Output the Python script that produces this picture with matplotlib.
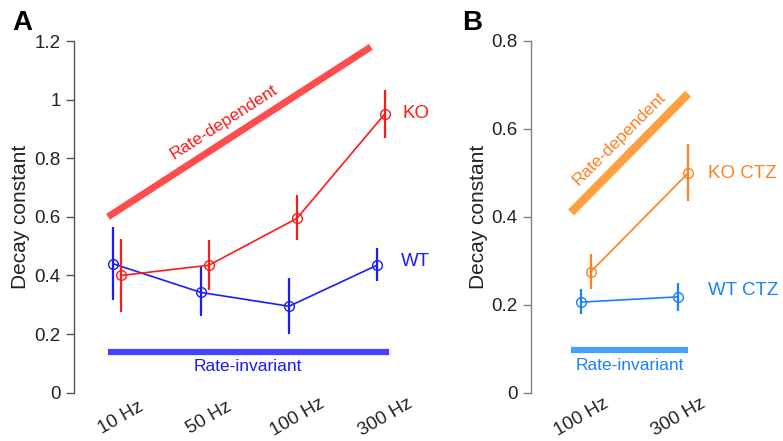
import matplotlib
matplotlib.use('Agg')
import matplotlib.pyplot as plt

plt.rcParams['font.family'] = ['Liberation Sans', 'DejaVu Sans']

# ---- panel A data
rates_a = ['10 Hz', '50 Hz', '100 Hz', '300 Hz']
wt_mean = [0.44, 0.342, 0.295, 0.435]
wt_lo = [0.315, 0.26, 0.20, 0.38]
wt_hi = [0.565, 0.43, 0.39, 0.495]
ko_mean = [0.40, 0.435, 0.595, 0.952]
ko_lo = [0.275, 0.35, 0.52, 0.87]
ko_hi = [0.525, 0.52, 0.675, 1.032]
# guide lines (x in category units, y in decay constant)
dep_a_x = [-0.148, 2.84]
dep_a_y = [0.60, 1.18]
inv_a_x = [-0.148, 3.045]
inv_a_y = [0.14, 0.14]

# ---- panel B data
rates_b = ['100 Hz', '300 Hz']
wtc_mean = [0.206, 0.218]
wtc_lo = [0.18, 0.185]
wtc_hi = [0.235, 0.25]
koc_mean = [0.275, 0.499]
koc_lo = [0.235, 0.435]
koc_hi = [0.315, 0.565]
dep_b_x = [-0.103, 1.103]
dep_b_y = [0.41, 0.68]
inv_b_x = [-0.103, 1.103]
inv_b_y = [0.098, 0.098]

red = '#ff1a1a'
red_l = '#ff4d4d'
blue = '#1a1aff'
blue_l = '#4444ff'
orange = '#ff8020'
orange_l = '#ffa040'
sky = '#1a80ff'
sky_l = '#44a0ff'

W, H = 783, 441
fig = plt.figure(figsize=(7.83, 4.41), dpi=100)

tick_fs = 13.5
lab_fs = 13.5


def style_axis(ax, ylim, yticks, ylabels, labx):
	for s in ['top', 'right', 'bottom']:
		ax.spines[s].set_visible(False)
	ax.spines['left'].set_color('#555555')
	ax.spines['left'].set_linewidth(1.0)
	ax.set_ylim(*ylim)
	ax.set_yticks(yticks)
	ax.set_yticklabels(ylabels, fontsize=tick_fs, color='#222222')
	ax.tick_params(axis='y', direction='out', length=5.5, width=1.0, color='#555555', pad=4)
	ax.tick_params(axis='x', length=0, pad=18)
	ax.set_ylabel('Decay constant', fontsize=15, color='#222222')
	ax.yaxis.set_label_coords(labx, 0.5)


def err(ax, x, m, lo, hi, c, off):
	xs = [i + off for i in x]
	ax.plot(xs, m, color=c, lw=1.2, marker='o', ms=7, mfc='none', mec=c, mew=1.0, zorder=3)
	ax.vlines(xs, lo, hi, color=c, lw=1.6, zorder=3)


# ---------------- panel A
axA = fig.add_axes([74 / W, (H - 392.7) / H, (420 - 74) / W, 351.7 / H])
xa = list(range(len(rates_a)))
axA.plot(dep_a_x, dep_a_y, color=red_l, lw=5, solid_capstyle='butt')
axA.plot(inv_a_x, inv_a_y, color=blue_l, lw=4.5, solid_capstyle='butt')
err(axA, xa, wt_mean, wt_lo, wt_hi, blue, -0.09)
err(axA, xa, ko_mean, ko_lo, ko_hi, red, 0.0)
axA.set_xlim(-0.534, 3.398)
style_axis(axA, (0, 1.2), [0, 0.2, 0.4, 0.6, 0.8, 1.0, 1.2],
	['0', '0.2', '0.4', '0.6', '0.8', '1', '1.2'], -0.127)
axA.set_xticks(xa)
axA.set_xticklabels(rates_a, rotation=30, ha='center', va='center', fontsize=tick_fs, color='#222222')
axA.text(1.17, 0.925, 'Rate-dependent', color=red, fontsize=12.5, rotation=32.8,
	ha='center', va='center', rotation_mode='anchor')
axA.text(1.44, 0.089, 'Rate-invariant', color=blue, fontsize=12.5, ha='center', va='center')
axA.text(3.2, 0.952, 'KO', color=red, fontsize=lab_fs, ha='left', va='center')
axA.text(3.18, 0.448, 'WT', color=blue, fontsize=lab_fs, ha='left', va='center')
fig.text(12 / W, 1 - 23 / H, 'A', fontsize=20, fontweight='bold', va='center', ha='left')

# ---------------- panel B
axB = fig.add_axes([531 / W, (H - 392.7) / H, (783 - 531) / W, 351.7 / H])
xb = list(range(len(rates_b)))
axB.plot(dep_b_x, dep_b_y, color=orange_l, lw=6, solid_capstyle='butt')
axB.plot(inv_b_x, inv_b_y, color=sky_l, lw=4.5, solid_capstyle='butt')
err(axB, xb, wtc_mean, wtc_lo, wtc_hi, sky, 0.0)
err(axB, xb, koc_mean, koc_lo, koc_hi, orange, 0.1)
axB.set_xlim(-0.515, 2.08)
style_axis(axB, (0, 0.8), [0, 0.2, 0.4, 0.6, 0.8], ['0', '0.2', '0.4', '0.6', '0.8'], -0.171)
axB.spines['left'].set_color('#808080')
axB.tick_params(axis='y', color='#808080')
axB.set_xticks(xb)
axB.set_xticklabels(rates_b, rotation=30, ha='center', va='center', fontsize=tick_fs, color='#222222')
axB.text(0.39, 0.578, 'Rate-dependent', color=orange, fontsize=12.5, rotation=45,
	ha='center', va='center', rotation_mode='anchor')
axB.text(0.5, 0.063, 'Rate-invariant', color=sky, fontsize=12.5, ha='center', va='center')
axB.text(1.31, 0.499, 'KO CTZ', color=orange, fontsize=lab_fs, ha='left', va='center')
axB.text(1.31, 0.233, 'WT CTZ', color=sky, fontsize=lab_fs, ha='left', va='center')
fig.text(462 / W, 1 - 23 / H, 'B', fontsize=20, fontweight='bold', va='center', ha='left')

fig.savefig('out.png', dpi=100)
